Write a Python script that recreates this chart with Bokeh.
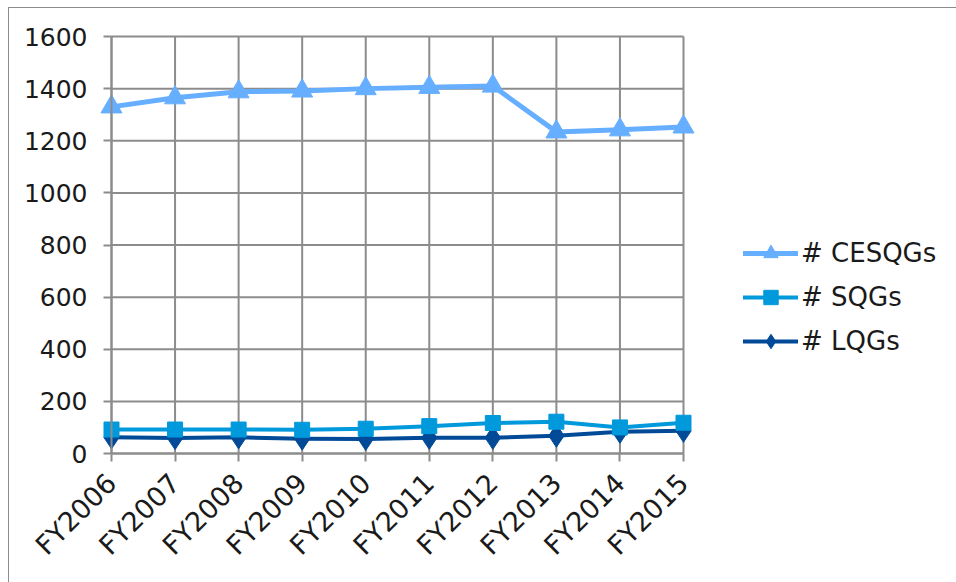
from bokeh.plotting import figure
from bokeh.models import Range1d, FixedTicker, Legend, LegendItem
from bokeh.embed import file_html
from bokeh.resources import INLINE

categories = ["FY2006", "FY2007", "FY2008", "FY2009", "FY2010",
              "FY2011", "FY2012", "FY2013", "FY2014", "FY2015"]
cesqgs = [1330, 1365, 1388, 1391, 1400, 1405, 1410, 1234, 1242, 1253]
sqgs = [92, 92, 92, 91, 95, 105, 117, 122, 100, 118]
lqgs = [62, 59, 62, 57, 56, 60, 60, 68, 83, 87]
y_ticks = [0, 200, 400, 600, 800, 1000, 1200, 1400, 1600]

FONT = "DejaVu Sans"

xs = list(range(len(categories)))
n = len(categories) - 1
ymax = y_ticks[-1]

# geometry (frame-relative pixels after border offset)
X0P, X1P, Y0P, Y1P = 110, 682, 452, 35
px_x = (X1P - X0P) / n
px_y = (Y0P - Y1P) / ymax
F_L, F_R, F_T, F_B = 12, 950, 12, 578
x0 = -(X0P - F_L) / px_x
x1 = n + (F_R - X1P) / px_x
y1 = ymax + (Y1P - F_T) / px_y
y0 = -(F_B - Y0P) / px_y

p = figure(width=950, height=580, output_backend="svg", toolbar_location=None,
           x_range=Range1d(x0, x1), y_range=Range1d(y0, y1),
           min_border_left=F_L - 8, min_border_right=958 - F_R,
           min_border_top=F_T - 7, min_border_bottom=587 - F_B)
p.margin = (7, 0, 0, 8)
p.styles = {"border": "1.5px solid #8c8c8c", "box-sizing": "border-box"}
p.outline_line_color = None
p.background_fill_color = "white"
p.border_fill_color = "white"
p.xgrid.visible = False
p.ygrid.visible = False

# grid lines drawn from the tick arrays, limited to the data area
p.segment(x0=[0] * len(y_ticks), x1=[n] * len(y_ticks), y0=y_ticks, y1=y_ticks,
          line_color="#8c8c8c", line_width=2)
p.segment(x0=xs, x1=xs, y0=[0] * len(xs), y1=[ymax] * len(xs),
          line_color="#8c8c8c", line_width=2)

for ax in (p.xaxis, p.yaxis):
    ax.axis_line_color = "#8c8c8c"
    ax.axis_line_width = 2
    ax.major_tick_line_color = "#8c8c8c"
    ax.major_tick_line_width = 2
    ax.major_tick_out = 8
    ax.major_tick_in = 0
    ax.minor_tick_line_color = None
    ax.major_label_text_font = FONT
    ax.major_label_text_color = "#1a1a1a"
    ax.fixed_location = 0

p.yaxis.ticker = FixedTicker(ticks=y_ticks)
p.yaxis.bounds = (0, ymax)
p.yaxis.major_label_standoff = 16
p.yaxis.major_label_text_font_size = "25px"
p.xaxis.ticker = FixedTicker(ticks=xs)
p.xaxis.bounds = (0, n)
p.xaxis.major_label_overrides = {i: c for i, c in enumerate(categories)}
p.xaxis.major_label_orientation = 0.785398
p.xaxis.major_label_standoff = 17
p.xaxis.major_label_text_font_size = "27px"

c1, c2, c3 = "#66AEFF", "#0099DC", "#004A98"

l3 = p.line(xs, lqgs, line_color=c3, line_width=4, line_cap="round", line_join="round")
m3 = p.scatter(xs, lqgs, marker="diamond", size=23, fill_color=c3, line_color=c3)
l2 = p.line(xs, sqgs, line_color=c2, line_width=4, line_cap="round", line_join="round")
m2 = p.scatter(xs, sqgs, marker="square", size=15, fill_color=c2, line_color=c2)
l1 = p.line(xs, cesqgs, line_color=c1, line_width=5, line_cap="round", line_join="round")
m1 = p.scatter(xs, cesqgs, marker="triangle", size=21, fill_color=c1, line_color=c1)

IH = 36
legend = Legend(items=[
    LegendItem(label="# CESQGs", renderers=[l1, m1]),
    LegendItem(label="# SQGs", renderers=[l2, m2]),
    LegendItem(label="# LQGs", renderers=[l3, m3]),
], location=(742 - F_L, F_B - (340 + IH // 2)))
legend.label_text_font = FONT
legend.label_text_font_size = "26px"
legend.label_text_color = "#1a1a1a"
legend.glyph_width = 55
legend.glyph_height = IH
legend.label_height = IH
legend.label_standoff = 3
legend.spacing = 44 - IH
legend.padding = 0
legend.margin = 0
legend.border_line_color = None
legend.background_fill_alpha = 0
p.add_layout(legend)

open("out.html", "w").write(file_html(p, INLINE))
